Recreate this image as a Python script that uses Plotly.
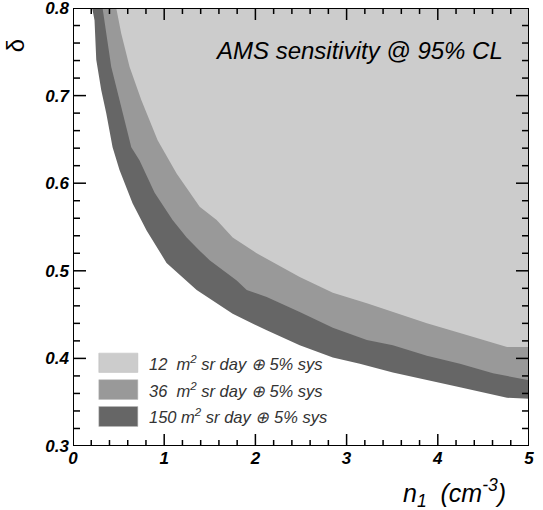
import plotly.graph_objects as go

# Sensitivity boundaries (n1 in cm^-3, delta)
n1_150 = [0.21, 0.236, 0.255, 0.31, 0.364, 0.434, 0.51, 0.653, 0.807, 1.026, 1.356, 1.751,
          2.124, 2.486, 2.849, 3.145, 3.507, 3.88, 4.243, 4.759, 5.0]
delta_150 = [0.8, 0.786, 0.741, 0.706, 0.68, 0.641, 0.615, 0.577, 0.546, 0.509, 0.478, 0.451,
             0.432, 0.415, 0.401, 0.394, 0.384, 0.375, 0.367, 0.355, 0.354]

n1_36 = [0.324, 0.364, 0.419, 0.51, 0.639, 0.73, 0.895, 1.092, 1.246, 1.389, 1.498, 1.795,
         1.905, 2.124, 2.486, 2.849, 3.222, 3.507, 3.88, 4.243, 4.605, 5.0]
delta_36 = [0.8, 0.771, 0.733, 0.695, 0.641, 0.626, 0.589, 0.558, 0.538, 0.523, 0.512, 0.489,
            0.478, 0.47, 0.453, 0.435, 0.421, 0.415, 0.403, 0.394, 0.383, 0.375]

n1_12 = [0.474, 0.529, 0.62, 0.749, 0.928, 1.136, 1.389, 1.575, 1.751, 2.014, 2.486, 2.849,
         3.222, 3.507, 3.88, 4.243, 4.759, 5.0]
delta_12 = [0.8, 0.771, 0.733, 0.695, 0.649, 0.611, 0.573, 0.558, 0.538, 0.52, 0.493, 0.475,
            0.463, 0.453, 0.44, 0.429, 0.413, 0.413]

labels = ["12  m<sup>2</sup> sr day \u2295 5% sys",
          "36  m<sup>2</sup> sr day \u2295 5% sys",
          "150 m<sup>2</sup> sr day \u2295 5% sys"]
colors = ["#cccccc", "#999999", "#666666"]

# axis ticks
x_major = [0, 1, 2, 3, 4, 5]
x_minor = [round(0.2 * i, 2) for i in range(26) if i % 5 != 0]
y_major = [0.3, 0.4, 0.5, 0.6, 0.7, 0.8]
y_minor = [round(0.3 + 0.02 * i, 3) for i in range(26) if i % 5 != 0]

X_MIN, X_MAX, Y_MIN, Y_MAX = 0.0, 5.0, 0.3, 0.8
FONT = "Liberation Sans, Arial, sans-serif"

# plot area in pixels (used to convert tick lengths to data units)
PLOT_W, PLOT_H = 456, 438
DX = (X_MAX - X_MIN) / PLOT_W
DY = (Y_MAX - Y_MIN) / PLOT_H

fig = go.Figure()
series = [(n1_150, delta_150, colors[2], labels[2]),
          (n1_36, delta_36, colors[1], labels[1]),
          (n1_12, delta_12, colors[0], labels[0])]
for xs, ys, col, lab in series:
    px = list(xs) + [X_MAX, xs[0]]
    py = list(ys) + [Y_MAX, Y_MAX]
    fig.add_trace(go.Scatter(x=px, y=py, mode="lines", fill="toself", fillcolor=col,
                             line=dict(width=0, color=col), name=lab, showlegend=False,
                             hoverinfo="skip"))

# tick marks (inside, on all four sides)
tx, ty = [], []
for vals, ln in ((x_major, 12), (x_minor, 6)):
    for v in vals:
        tx += [v, v, None, v, v, None]
        ty += [Y_MIN, Y_MIN + ln * DY, None, Y_MAX, Y_MAX - ln * DY, None]
for vals, ln in ((y_major, 13), (y_minor, 7)):
    for v in vals:
        tx += [X_MIN, X_MIN + ln * DX, None, X_MAX, X_MAX - ln * DX, None]
        ty += [v, v, None, v, v, None]
fig.add_trace(go.Scatter(x=tx, y=ty, mode="lines", line=dict(color="black", width=1.5),
                         showlegend=False, hoverinfo="skip", cliponaxis=False))

# frame
fig.add_trace(go.Scatter(x=[X_MIN, X_MAX, X_MAX, X_MIN, X_MIN],
                         y=[Y_MIN, Y_MIN, Y_MAX, Y_MAX, Y_MIN], mode="lines",
                         line=dict(color="black", width=2), showlegend=False,
                         hoverinfo="skip", cliponaxis=False))

# custom legend
leg_y = [(0.384, 0.406), (0.3531, 0.3757), (0.3223, 0.3451)]
for (y0, y1), col, lab in zip(leg_y, colors, labels):
    fig.add_shape(type="rect", x0=0.283, x1=0.711, y0=y0, y1=y1, xref="x", yref="y",
                  fillcolor=col, line=dict(width=0.5, color="#bbbbbb"), layer="above")
    fig.add_annotation(x=0.807, y=(y0 + y1) / 2, xref="x", yref="y", text=lab,
                       showarrow=False, xanchor="left", yanchor="middle",
                       font=dict(family=FONT, size=16.5, style="italic", color="#333333"))

fig.add_annotation(x=0.947, y=0.904, xref="paper", yref="paper",
                   text="AMS sensitivity @ 95% CL", showarrow=False,
                   xanchor="right", yanchor="middle",
                   font=dict(family=FONT, size=24, style="italic", color="black"))
fig.add_annotation(x=0.954, y=-0.107, xref="paper", yref="paper",
                   text="n<sub>1</sub>  (cm<sup>-3</sup>)", showarrow=False,
                   xanchor="right", yanchor="middle",
                   font=dict(family=FONT, size=25, style="italic", color="black"))
fig.add_annotation(x=-0.127, y=0.913, xref="paper", yref="paper",
                   text="\u03b4", showarrow=False, textangle=-90,
                   xanchor="center", yanchor="middle",
                   font=dict(family=FONT, size=24, color="black"))

tickfont = dict(family=FONT, size=17, weight="bold", style="italic", color="black")
common = dict(showgrid=False, zeroline=False, ticks="", showline=False,
              automargin=False, ticklabeloverflow="allow", tickfont=tickfont)

fig.update_layout(
    template="none",
    width=543, height=510, margin=dict(l=73, r=14, t=8, b=64, autoexpand=False),
    plot_bgcolor="white", paper_bgcolor="white", showlegend=False,
    xaxis=dict(range=[X_MIN, X_MAX], tickvals=x_major, ticktext=[str(v) for v in x_major],
               **common),
    yaxis=dict(range=[Y_MIN, Y_MAX], tickvals=y_major,
               ticktext=[f"{v:.1f}" for v in y_major], ticklabelstandoff=3, **common),
)

fig.write_html("out.html", config={"displayModeBar": False},
               post_script="document.body.style.margin='0';document.body.style.overflow='hidden';")
